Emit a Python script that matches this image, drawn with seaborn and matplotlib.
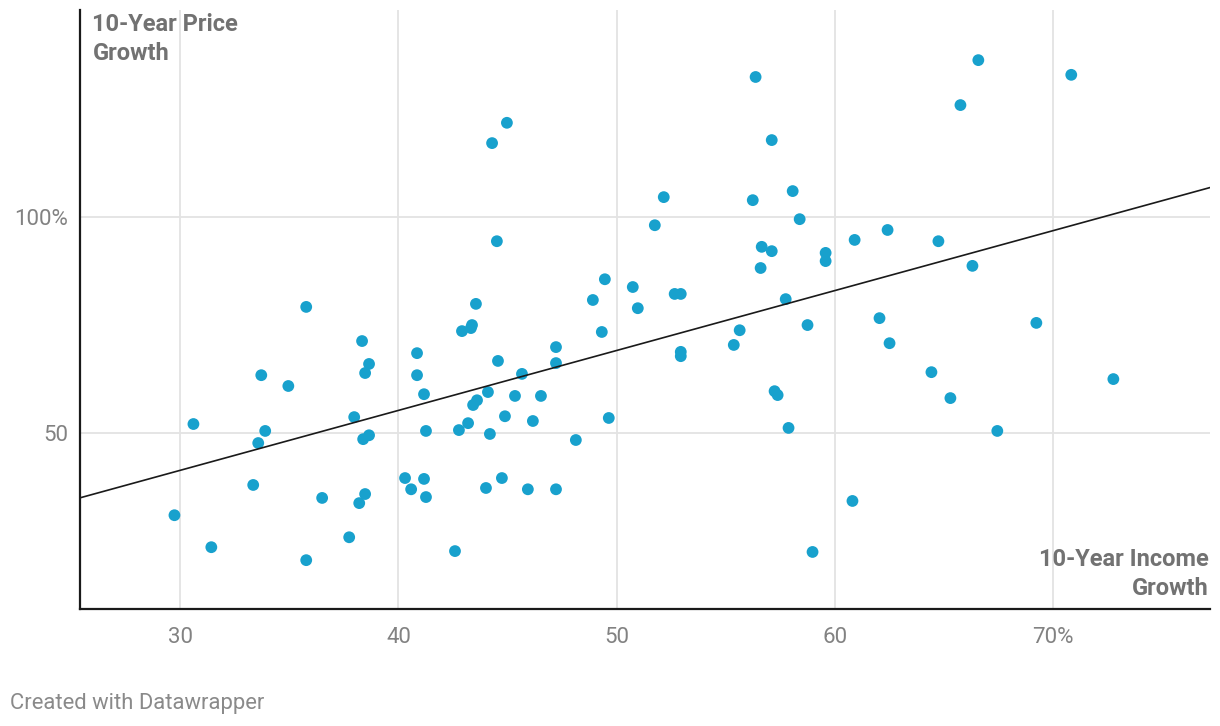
import numpy as np
import pandas as pd
import matplotlib
matplotlib.use("Agg")
import matplotlib.pyplot as plt
import seaborn as sns

# ---- data ----
income_growth = [29.73, 30.60, 31.42, 33.34, 33.57, 33.71, 33.89, 34.95, 35.77, 35.77,
                 36.50, 37.74, 37.97, 38.20, 38.33, 38.38, 38.47, 38.47, 38.65, 38.65,
                 40.30, 40.58, 40.85, 40.85, 41.17, 41.17, 41.26, 41.26, 42.59, 42.77,
                 42.91, 43.19, 43.32, 43.37, 43.42, 43.55, 43.60, 44.01, 44.10, 44.19,
                 44.29, 44.51, 44.56, 44.74, 44.88, 44.97, 45.34, 45.66, 45.93, 46.16,
                 46.53, 47.22, 47.22, 47.22, 48.13, 48.91, 49.32, 49.46, 49.64, 50.74,
                 50.97, 51.75, 52.16, 52.66, 52.94, 52.94, 52.94, 55.37, 55.64, 56.24,
                 56.37, 56.60, 56.65, 57.11, 57.11, 57.24, 57.38, 57.75, 57.88, 58.07,
                 58.39, 58.75, 58.98, 59.58, 59.58, 60.81, 60.91, 62.05, 62.42, 62.51,
                 64.43, 64.75, 65.30, 65.76, 66.31, 66.58, 67.45, 69.24, 70.84, 72.77]
price_growth = [31.0, 52.1, 23.6, 38.0, 47.7, 63.4, 50.5, 60.9, 79.2, 20.6,
                35.0, 25.9, 53.7, 33.8, 71.3, 48.6, 63.9, 35.9, 49.5, 66.0,
                39.6, 37.0, 68.5, 63.4, 39.4, 59.0, 35.2, 50.5, 22.7, 50.7,
                73.6, 52.3, 74.3, 75.0, 56.5, 79.9, 57.6, 37.3, 59.5, 49.8,
                117.1, 94.4, 66.7, 39.6, 53.9, 121.8, 58.6, 63.7, 37.0, 52.8,
                58.6, 69.9, 66.2, 37.0, 48.4, 80.8, 73.4, 85.6, 53.5, 83.8,
                78.9, 98.1, 104.6, 82.2, 82.2, 68.8, 67.8, 70.4, 73.8, 103.9,
                132.4, 88.2, 93.1, 117.8, 92.1, 59.7, 58.8, 81.0, 51.2, 106.0,
                99.5, 75.0, 22.5, 91.7, 89.8, 34.3, 94.7, 76.6, 97.0, 70.8,
                64.1, 94.4, 58.1, 125.9, 88.7, 136.3, 50.5, 75.5, 132.9, 62.5]

x_ticks = [30, 40, 50, 60, 70]
x_tick_labels = ["30", "40", "50", "60", "70%"]
y_ticks = [50, 100]
y_tick_labels = ["50", "100%"]

df = pd.DataFrame({"income": income_growth, "price": price_growth})

# ---- styling ----
sns.set_theme(style="white")
plt.rcParams["font.family"] = ["Roboto", "DejaVu Sans"]

DOT = "#18a1cd"
GRID = "#e3e3e3"
TICK = "#828282"
TITLE = "#727272"

fig = plt.figure(figsize=(12.2, 7.26), dpi=100)
ax = fig.add_axes([80 / 1220, 1 - 609 / 726, 1130 / 1220, 599 / 726])

ax.set_xlim(25.4, 77.2)
ax.set_ylim(9.3, 147.9)

sns.regplot(data=df, x="income", y="price", ax=ax, ci=None, truncate=False,
            scatter_kws=dict(s=72, color=DOT, edgecolor="none", alpha=1, zorder=3),
            line_kws=dict(color="#1a1a1a", lw=1.2, zorder=4))

ax.set_xlim(25.4, 77.2)
ax.set_ylim(9.3, 147.9)

ax.set_xticks(x_ticks)
ax.set_xticklabels(x_tick_labels)
ax.set_yticks(y_ticks)
ax.set_yticklabels(y_tick_labels)
ax.set_xlabel("")
ax.set_ylabel("")

ax.grid(True, color=GRID, lw=1.3, zorder=0)
ax.set_axisbelow(True)
for s in ["top", "right"]:
    ax.spines[s].set_visible(False)
for s in ["left", "bottom"]:
    ax.spines[s].set_color("#1a1a1a")
    ax.spines[s].set_linewidth(1.6)

ax.tick_params(axis="both", length=0, labelsize=16, labelcolor=TICK)
ax.tick_params(axis="x", pad=13)
ax.tick_params(axis="y", pad=8.5)

ax.text(0.011, 0.995, "10-Year Price\nGrowth", transform=ax.transAxes,
        ha="left", va="top", fontsize=17, fontweight="bold", color=TITLE,
        linespacing=1.32)
ax.text(0.999, 0.015, "10-Year Income\nGrowth", transform=ax.transAxes,
        ha="right", va="bottom", fontsize=17, fontweight="bold", color=TITLE,
        linespacing=1.32)

fig.text(10 / 1220, 1 - 703 / 726, "Created with Datawrapper", ha="left",
         va="center", fontsize=15.8, color="#8a8a8a")

fig.savefig("out.png", dpi=100)
